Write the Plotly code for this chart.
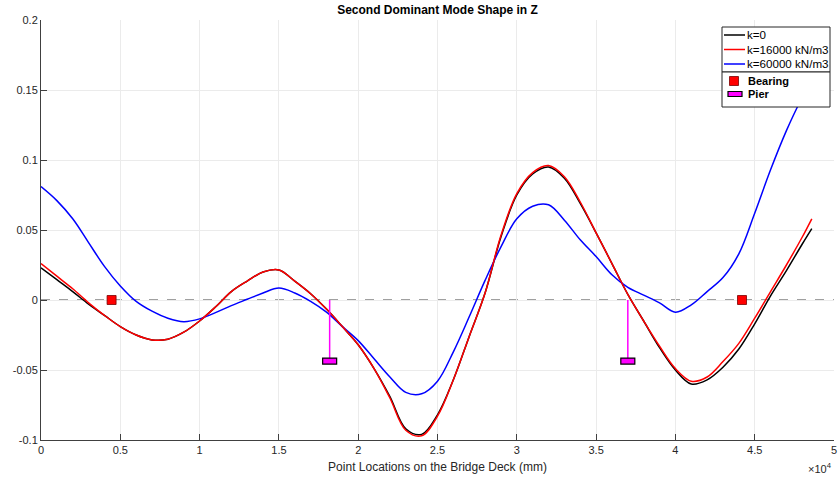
import plotly.graph_objects as go

# ---------------- data (x in units of 1e4 mm, y mode-shape amplitude) ----------------
x_grid = [0.0, 0.1, 0.2, 0.3, 0.4, 0.5, 0.6, 0.7, 0.8, 0.9,
          1.0, 1.1, 1.2, 1.3, 1.4, 1.5, 1.6, 1.7, 1.8, 1.9,
          2.0, 2.1, 2.2, 2.3, 2.4, 2.5, 2.6, 2.7, 2.8, 2.9,
          3.0, 3.1, 3.2, 3.3, 3.4, 3.5, 3.6, 3.7, 3.8, 3.9,
          4.0, 4.1, 4.2, 4.3, 4.4, 4.5, 4.6, 4.7, 4.8, 4.86]

y_k0 = [0.023, 0.0145, 0.006, -0.003, -0.011, -0.019, -0.025, -0.0285, -0.028, -0.023,
        -0.015, -0.005, 0.006, 0.0135, 0.020, 0.0215, 0.0135, 0.0045, -0.0065, -0.019,
        -0.032, -0.049, -0.069, -0.092, -0.096, -0.082, -0.057, -0.026, 0.005, 0.045,
        0.075, 0.090, 0.095, 0.087, 0.069, 0.048, 0.026, 0.004, -0.015, -0.034,
        -0.050, -0.060, -0.057, -0.048, -0.035, -0.017, 0.003, 0.021, 0.040, 0.051]

y_k16 = [0.026, 0.017, 0.008, -0.002, -0.011, -0.019, -0.025, -0.0285, -0.028, -0.023,
         -0.015, -0.005, 0.006, 0.0135, 0.020, 0.0215, 0.0135, 0.0045, -0.0065, -0.019,
         -0.032, -0.049, -0.070, -0.093, -0.097, -0.083, -0.057, -0.026, 0.005, 0.046,
         0.076, 0.091, 0.096, 0.088, 0.070, 0.048, 0.026, 0.004, -0.015, -0.033,
         -0.049, -0.058, -0.055, -0.044, -0.031, -0.013, 0.006, 0.025, 0.045, 0.058]

y_k60 = [0.081, 0.071, 0.058, 0.041, 0.024, 0.010, -0.001, -0.008, -0.013, -0.0155,
         -0.0135, -0.009, -0.004, 0.0005, 0.005, 0.0085, 0.005, -0.001, -0.0087, -0.019,
         -0.029, -0.042, -0.055, -0.066, -0.067, -0.058, -0.037, -0.012, 0.014, 0.038,
         0.058, 0.067, 0.068, 0.057, 0.043, 0.031, 0.018, 0.009, 0.0035, -0.002,
         -0.0087, -0.0035, 0.006, 0.016, 0.033, 0.062, 0.093, 0.121, 0.145, 0.158]

bearing_x = [0.445, 4.42]
bearing_y = [0.0, 0.0]
pier_x = [1.82, 3.70]
pier_top = [0.0, 0.0]
pier_base = [-0.0436, -0.0436]

series_names = ["k=0", "k=16000 kN/m3", "k=60000 kN/m3"]
series_colors = ["black", "#ff0000", "#0000ff"]
marker_names = ["Bearing", "Pier"]

x_tickvals = [0, 0.5, 1, 1.5, 2, 2.5, 3, 3.5, 4, 4.5, 5]
x_ticktext = ["0", "0.5", "1", "1.5", "2", "2.5", "3", "3.5", "4", "4.5", "5"]
y_tickvals = [-0.1, -0.05, 0, 0.05, 0.1, 0.15, 0.2]
y_ticktext = ["-0.1", "-0.05", "0", "0.05", "0.1", "0.15", "0.2"]

FONT = "Liberation Sans, Arial, sans-serif"
TXT = "#262626"

W, H = 839, 487
ML, MR, MT, MB = 41, 5, 20, 47
PW, PH = W - ML - MR, H - MT - MB


def px2paper_x(px):
    return (px - ML) / PW


def px2paper_y(py):
    return (H - MB - py) / PH


fig = go.Figure()

line_style = dict(shape="spline", smoothing=1.0, width=1.5)
for ys, nm, col in [(y_k0, series_names[0], series_colors[0]),
                    (y_k60, series_names[2], series_colors[2]),
                    (y_k16, series_names[1], series_colors[1])]:
    fig.add_trace(go.Scatter(x=x_grid, y=ys, mode="lines", name=nm,
                             line=dict(color=col, **line_style), showlegend=False))

# pier vertical lines
for i, px in enumerate(pier_x):
    fig.add_trace(go.Scatter(x=[px, px], y=[pier_top[i], pier_base[i]], mode="lines",
                             line=dict(color="#ff00ff", width=1.5), showlegend=False,
                             hoverinfo="skip"))

# bearings
fig.add_trace(go.Scatter(x=bearing_x, y=bearing_y, mode="markers", name="Bearing",
                         marker=dict(symbol="square", size=9, color="#ff0000",
                                     line=dict(color="#7a0000", width=0.8)),
                         showlegend=False))

# pier base rectangles
for i, px in enumerate(pier_x):
    fig.add_shape(type="rect", xref="x", yref="y",
                  xsizemode="pixel", ysizemode="pixel",
                  xanchor=px, yanchor=pier_base[i],
                  x0=-7, x1=7, y0=-3, y1=3,
                  fillcolor="#ff00ff", line=dict(color="black", width=1.2))

# zero dashed line
fig.add_shape(type="line", xref="paper", yref="y", x0=0, x1=1, y0=0, y1=0,
              line=dict(color="#404040", width=1, dash="dash"), layer="below")

# ---------------- legend boxes (MATLAB style, two stacked legends) ----------------
lx0, lx1 = px2paper_x(722), px2paper_x(830)
ly_top, ly_mid, ly_bot = px2paper_y(27), px2paper_y(72), px2paper_y(107)
fig.add_shape(type="rect", xref="paper", yref="paper", x0=lx0, x1=lx1, y0=ly_mid, y1=ly_top,
              fillcolor="white", line=dict(color="#262626", width=1))
fig.add_shape(type="rect", xref="paper", yref="paper", x0=lx0, x1=lx1, y0=ly_bot, y1=ly_mid,
              fillcolor="white", line=dict(color="#262626", width=1))
row_y = [35, 49.5, 64]
for i in range(3):
    yy = px2paper_y(row_y[i])
    fig.add_shape(type="line", xref="paper", yref="paper",
                  x0=px2paper_x(724), x1=px2paper_x(745), y0=yy, y1=yy,
                  line=dict(color=series_colors[i], width=1.5))
    fig.add_annotation(text=series_names[i], xref="paper", yref="paper",
                       x=px2paper_x(745), y=yy, xanchor="left", yanchor="middle",
                       showarrow=False, font=dict(family=FONT, size=11.6, color="black"))
# bearing legend marker
fig.add_shape(type="rect", xref="paper", yref="paper", xsizemode="pixel", ysizemode="pixel",
              xanchor=px2paper_x(734), yanchor=px2paper_y(81), x0=-4.5, x1=4.5, y0=-4.5, y1=4.5,
              fillcolor="#ff0000", line=dict(color="#7a0000", width=0.8))
# pier legend marker
fig.add_shape(type="rect", xref="paper", yref="paper", xsizemode="pixel", ysizemode="pixel",
              xanchor=px2paper_x(735), yanchor=px2paper_y(94), x0=-7, x1=7, y0=-2.5, y1=2.5,
              fillcolor="#ff00ff", line=dict(color="black", width=1.2))
for nm, ry in zip(marker_names, [81, 94]):
    fig.add_annotation(text="<b>" + nm + "</b>", xref="paper", yref="paper",
                       x=px2paper_x(746), y=px2paper_y(ry), xanchor="left", yanchor="middle",
                       showarrow=False, font=dict(family=FONT, size=11, color="black"))

fig.add_annotation(text="×10<sup>4</sup>", xref="paper", yref="paper",
                   x=1.0, y=-0.067, xanchor="right", yanchor="middle",
                   showarrow=False, font=dict(family=FONT, size=11, color=TXT))

fig.update_layout(
    width=W, height=H,
    margin=dict(l=ML, r=MR, t=MT, b=MB, autoexpand=False),
    paper_bgcolor="white", plot_bgcolor="white",
    font=dict(family=FONT, size=11, color=TXT),
    title=dict(text="<b>Second Dominant Mode Shape in Z</b>", x=0.5215, xanchor="center",
               y=0.979, yanchor="middle", font=dict(family=FONT, size=12, color="black")),
    showlegend=False,
    xaxis=dict(range=[0, 5], tickvals=x_tickvals, ticktext=x_ticktext,
               showgrid=True, gridcolor="#ebebeb", gridwidth=1,
               showline=True, linecolor="#404040", linewidth=1,
               ticks="inside", ticklen=6, tickcolor="#404040",
               zeroline=False, automargin=False, tickfont=dict(size=11, color=TXT),
               title=dict(text="Point Locations on the Bridge Deck (mm)",
                          font=dict(size=12, color=TXT), standoff=7)),
    yaxis=dict(range=[-0.1, 0.2], tickvals=y_tickvals, ticktext=y_ticktext,
               showgrid=True, gridcolor="#ebebeb", gridwidth=1,
               showline=True, linecolor="#404040", linewidth=1,
               ticks="inside", ticklen=6, tickcolor="#404040",
               zeroline=False, automargin=False, tickfont=dict(size=11, color=TXT)),
)

fig.write_html("out.html", config={"displayModeBar": False},
               post_script="document.body.style.margin='0';")
